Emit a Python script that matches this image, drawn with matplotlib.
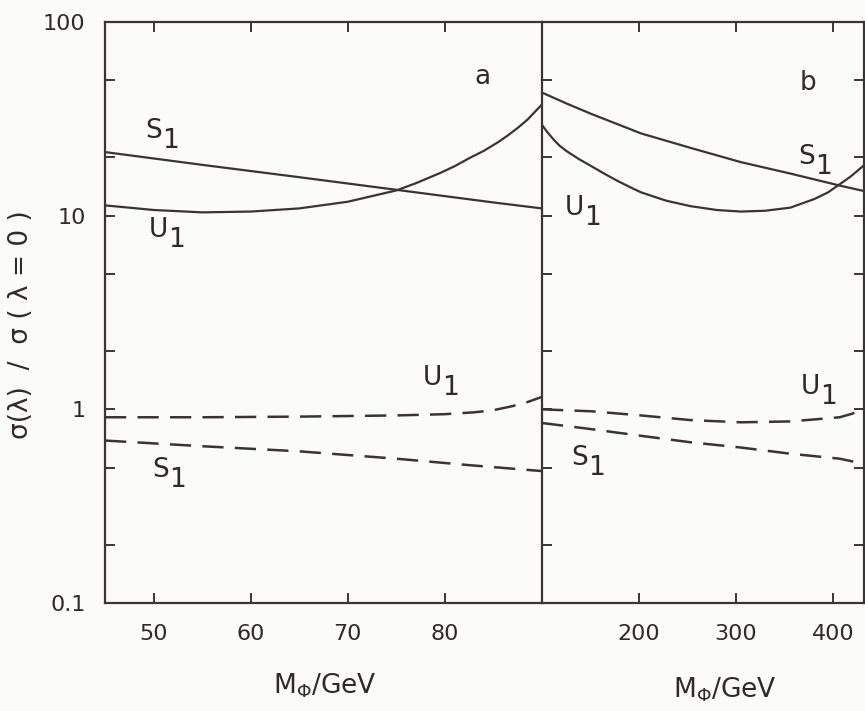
import matplotlib
matplotlib.use("Agg")
import matplotlib.pyplot as plt
from matplotlib.ticker import FixedLocator, FixedFormatter

# ---------------- data ----------------
# panel a : M_Phi 45..90 GeV
xa_S1_solid = [45, 55, 65, 75, 85, 90]
ya_S1_solid = [21.3, 18.3, 15.8, 13.6, 11.7, 10.9]

xa_U1_solid = [45, 50, 55, 60, 65, 70, 75, 77, 79.5, 81, 82.5, 84, 85.5, 86.5, 87.5, 88.5, 89.3, 90]
ya_U1_solid = [11.3, 10.7, 10.4, 10.5, 10.9, 11.8, 13.5, 14.7, 16.6, 18.0, 19.8, 21.6, 24.0,
               26.0, 28.4, 31.3, 34.5, 37.5]

xa_U1_dash = [45, 55, 65, 75, 80, 83, 85, 87, 88.5, 90]
ya_U1_dash = [0.91, 0.91, 0.917, 0.93, 0.944, 0.965, 0.99, 1.04, 1.09, 1.16]

xa_S1_dash = [45, 55, 65, 75, 82.5, 90]
ya_S1_dash = [0.69, 0.645, 0.607, 0.556, 0.515, 0.48]

# panel b : M_Phi 100..432 GeV
xb_S1_solid = [100, 125, 151, 202, 253, 305, 356, 407, 432]
yb_S1_solid = [43.2, 38.0, 33.5, 26.6, 22.4, 18.9, 16.5, 14.3, 13.4]

xb_U1_solid = [100, 106, 112, 118, 125, 138, 151, 164, 177, 190, 202, 228, 253, 280, 305,
               330, 356, 381, 395, 405, 418, 432]
yb_U1_solid = [29.4, 26.8, 24.7, 23.0, 21.6, 19.6, 18.0, 16.5, 15.2, 14.1, 13.2, 11.95, 11.2,
               10.7, 10.5, 10.6, 11.0, 12.2, 13.2, 14.3, 15.9, 18.2]

xb_U1_dash = [100, 151, 202, 253, 305, 356, 407, 420, 432]
yb_U1_dash = [1.0, 0.977, 0.93, 0.88, 0.857, 0.866, 0.91, 0.95, 1.01]

xb_S1_dash = [100, 151, 202, 253, 305, 356, 407, 432]
yb_S1_dash = [0.85, 0.79, 0.73, 0.676, 0.635, 0.59, 0.556, 0.523]

xticks_a = [50, 60, 70, 80]
xticks_b = [200, 300, 400]
yticks = [0.1, 0.2, 0.5, 1, 2, 5, 10, 20, 50, 100]
ytick_labels = ["0.1", "", "", "1", "", "", "10", "", "", "100"]

# ---------------- style ----------------
W, H = 865, 711
BG = "#fbfbf7"
LC = "#3a3530"
TC = "#2e2b27"
FS_TICK = 16
FS_TXT = 19

plt.rcParams["font.family"] = ["DejaVu Sans"]
plt.rcParams["mathtext.fontset"] = "dejavusans"

fig = plt.figure(figsize=(W / 100, H / 100), dpi=100, facecolor=BG)

def fx(px):
    return px / W

def fy(py):
    return 1 - py / H

left_px, mid_px, right_px = 105, 542, 864
top_px, bot_px = 22, 603

ax_a = fig.add_axes([fx(left_px), fy(bot_px), (mid_px - left_px) / W, (bot_px - top_px) / H])
ax_b = fig.add_axes([fx(mid_px), fy(bot_px), (right_px - mid_px) / W, (bot_px - top_px) / H],
                    sharey=ax_a)

solid_kw = dict(color=LC, lw=1.6, solid_capstyle="butt", solid_joinstyle="round")
dash_kw = dict(color=LC, lw=1.8, dashes=(8.5, 4.5))

ax_a.plot(xa_S1_solid, ya_S1_solid, **solid_kw)
ax_a.plot(xa_U1_solid, ya_U1_solid, **solid_kw)
ax_a.plot(xa_U1_dash, ya_U1_dash, **dash_kw)
ax_a.plot(xa_S1_dash, ya_S1_dash, **dash_kw)

ax_b.plot(xb_S1_solid, yb_S1_solid, **solid_kw)
ax_b.plot(xb_U1_solid, yb_U1_solid, **solid_kw)
ax_b.plot(xb_U1_dash, yb_U1_dash, **dash_kw)
ax_b.plot(xb_S1_dash, yb_S1_dash, **dash_kw)

for ax in (ax_a, ax_b):
    ax.set_facecolor(BG)
    ax.set_yscale("log")
    ax.set_ylim(0.1, 100)
    for s in ax.spines.values():
        s.set_color(LC)
        s.set_linewidth(1.6)
    ax.yaxis.set_major_locator(FixedLocator(yticks))
    ax.yaxis.set_minor_locator(FixedLocator([]))
    ax.tick_params(which="both", direction="in", length=7, width=1.4, color=LC,
                   labelsize=FS_TICK, labelcolor=TC, top=True, pad=14)

ax_a.set_xlim(45, 90)
ax_a.set_xticks(xticks_a)
ax_a.set_xticklabels([str(v) for v in xticks_a])
ax_a.yaxis.set_major_formatter(FixedFormatter(ytick_labels))
ax_a.tick_params(axis="y", left=True, right=False, pad=14)
ax_a.tick_params(axis="x", pad=15)
ax_a.spines["right"].set_visible(False)

ax_b.set_xlim(100, 432)
ax_b.set_xticks(xticks_b)
ax_b.set_xticklabels([str(v) for v in xticks_b])
ax_b.tick_params(axis="y", left=True, right=True, labelleft=False)
ax_b.tick_params(axis="x", pad=15)

# ---------------- texts ----------------
def t(px, py, s, size=FS_TXT, ha="center", **kw):
    fig.text(fx(px), fy(py), s, fontsize=size, color=TC, ha=ha, va="center", **kw)

def curve_label(px, py, letter):
    # letter followed by a full-size, lowered index "1" (as drawn in the original)
    t(px + 7, py, letter, ha="right")
    t(px + 7, py + 10, "1", ha="left")

curve_label(155, 131, "S")
curve_label(161, 230, "U")
curve_label(435, 378, "U")
curve_label(162, 470, "S")
t(482, 77, "a")

curve_label(808, 157, "S")
curve_label(577, 208, "U")
curve_label(813, 387, "U")
curve_label(581, 458, "S")
t(808, 83, "b")

t(325, 686, r"M$_\Phi$/GeV", size=19)
t(725, 690, r"M$_\Phi$/GeV", size=19)
t(21, 325, "σ(λ)  /  σ ( λ = 0 )", size=19, rotation=90)

fig.savefig("out.png", dpi=100, facecolor=BG)
